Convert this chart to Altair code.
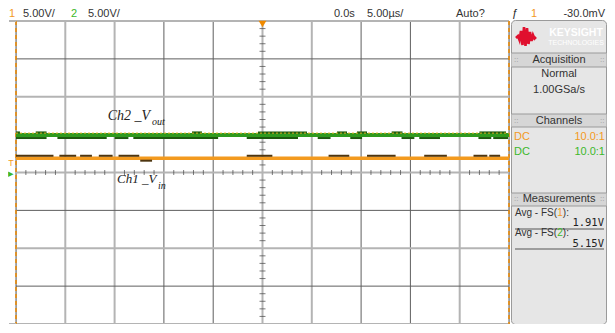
import altair as alt
import pandas as pd

# ---- graticule: time in microseconds (5 us/div), voltage in volts (5 V/div)
t_grid = [-25, -20, -15, -10, -5, 0, 5, 10, 15, 20, 25]
v_grid = [-20, -15, -10, -5, 0, 5, 10, 15, 20]
t_minor = [t for t in range(-24, 25) if t % 5 != 0]
v_minor = [v for v in range(-19, 20) if v % 5 != 0]

# ---- trace levels (V)
ch2_level = 4.94
ch2_hi = 5.29
ch2_lo = 4.55
ch2_thresh = 5.2
ch1_level = 1.88
ch1_hi = 2.21
ch1_lo = 1.56

# ---- noise segments (start/end in us)
ch2_top_start = [-25.0, -23.0, -7.15, -0.46, 7.56, 9.58, 13.1, 22.0]
ch2_top_end = [-24.6, -21.9, -6.14, 4.51, 8.57, 10.6, 14.2, 24.7]
ch2_bot_start = [-25.0, -20.8, -15.0, -13.1, -1.6, 5.6, 8.9, 14.1, 15.9, 21.9, 23.4]
ch2_bot_end = [-21.9, -15.8, -13.6, -4.5, 3.6, 6.9, 10.1, 15.4, 18.0, 23.2, 24.9]
ch1_top_start = [-25.0, -20.6, -18.5, -16.6, -14.6, -1.6, 6.7, 10.6, 16.4, 21.4, 23.0]
ch1_top_end = [-21.2, -18.9, -17.3, -15.2, -12.5, 1.0, 8.8, 13.5, 18.7, 22.8, 24.1]
ch1_bot_start = [-12.4]
ch1_bot_end = [-11.2]

ORANGE = "#f39a1e"
GREEN = "#2f9a1e"
LGREEN = "#3cb82a"
DKGREEN = "#1d5a0e"
DKORANGE = "#4d3510"
TXT = "#333333"
SANS = "Liberation Sans"

W, H = 493, 303
XS = alt.Scale(domain=[-25, 25], nice=False, zero=False)
YS = alt.Scale(domain=[-20, 20], nice=False, zero=False)
NOAX = dict(labels=False, ticks=False, domain=False, grid=False, title=None)

light_x = "indexof([-20, -15, 0, 5, 20], datum.t) >= 0"
light_y = "indexof([20, 10, 0, -10, -20], datum.v) >= 0"

base = alt.Chart(pd.DataFrame({"t": [-25, 25], "v": [-20, 20]})).mark_point(opacity=0).encode(
    x=alt.X("t:Q", scale=XS, axis=alt.Axis(**NOAX)),
    y=alt.Y("v:Q", scale=YS, axis=alt.Axis(**NOAX)))


def vgrid(test, color, width):
    return alt.Chart(pd.DataFrame({"t": t_grid})).transform_filter(test).mark_rule(
        color=color, strokeWidth=width).encode(
        x=alt.X("t:Q", axis=None), y=alt.value(0), y2=alt.value(H))


def hgrid(test, color, width):
    return alt.Chart(pd.DataFrame({"v": v_grid})).transform_filter(test).mark_rule(
        color=color, strokeWidth=width).encode(
        y=alt.Y("v:Q", axis=None), x=alt.value(0), x2=alt.value(W))


grids = [
    vgrid(light_x, "#b4b4b4", 2), vgrid("!(" + light_x + ")", "#5e5e5e", 1),
    hgrid(light_y, "#b4b4b4", 2), hgrid("!(" + light_y + ")", "#5e5e5e", 1),
]

one = pd.DataFrame({"k": [0]})

tick_x = alt.Chart(pd.DataFrame({"t": t_minor})).mark_tick(
    orient="vertical", size=5, thickness=1, color="#444444").encode(
    x=alt.X("t:Q", axis=None), y=alt.datum(0))
tick_y = alt.Chart(pd.DataFrame({"v": v_minor})).mark_tick(
    orient="horizontal", size=6, thickness=1, color="#444444").encode(
    y=alt.Y("v:Q", axis=None), x=alt.datum(0))


def seg(starts, ends, level, color, width, dash=None):
    df = pd.DataFrame({"t0": starts, "t1": ends, "v": [level] * len(starts)})
    kw = dict(color=color, strokeWidth=width)
    if dash:
        kw["strokeDash"] = dash
    return alt.Chart(df).mark_rule(**kw).encode(
        x=alt.X("t0:Q", axis=None), x2="t1:Q",
        y=alt.Y("v:Q", axis=None))


ch2_main = seg([-25], [25], ch2_level, GREEN, 4)
ch2_top = seg(ch2_top_start, ch2_top_end, ch2_hi, DKGREEN, 2)
ch2_bot = seg(ch2_bot_start, ch2_bot_end, ch2_lo, DKGREEN, 2)
ch2_dash = seg([-25], [25], ch2_thresh, "#e0b020", 1, [2, 2])
ch1_main = seg([-25], [25], ch1_level, ORANGE, 3.5)
ch1_top = seg(ch1_top_start, ch1_top_end, ch1_hi, DKORANGE, 2)
ch1_bot = seg(ch1_bot_start, ch1_bot_end, ch1_lo, DKORANGE, 2)

edges = alt.Chart(pd.DataFrame({"t": [-25, 25], "off": [1, -1]})).mark_rule(
    color="#f08a00", strokeWidth=1.5, strokeDash=[4, 3]).encode(
    x=alt.X("t:Q", axis=None), y=alt.value(0), y2=alt.value(H),
    xOffset=alt.XOffset("off:Q", scale=None))


def dtext(s, t, v, size, color="#222222", font="Liberation Serif", style="italic", align="left"):
    return alt.Chart(one).mark_text(text=s, font=font, fontSize=size, fontStyle=style,
                                    color=color, align=align, baseline="alphabetic").encode(
        x=alt.datum(t), y=alt.datum(v))


lab2a = dtext("Ch2 _V", -15.7, 6.88, 14)
lab2b = dtext("out", -11.2, 6.23, 10)
lab1a = dtext("Ch1 _V", -14.76, -1.43, 13)
lab1b = dtext("in", -10.6, -2.2, 10)

trig = alt.Chart(one).mark_point(shape="triangle-down", filled=True, color="#f08a00",
                                 size=60, opacity=1).encode(x=alt.datum(0), y=alt.value(3))

DY = -1


def ptext(s, x, y, color=TXT, size=11, align="left", font=SANS, weight="normal"):
    return alt.Chart(one).mark_text(text=s, font=font, fontSize=size, color=color,
                                    align=align, baseline="middle", fontWeight=weight).encode(
        x=alt.value(x), y=alt.value(y + DY))


def prect(x0, x1, y0, y1, fill, stroke=None, radius=0):
    kw = dict(fill=fill, cornerRadius=radius)
    if stroke:
        kw.update(stroke=stroke, strokeWidth=1)
    return alt.Chart(one).mark_rect(**kw).encode(
        x=alt.value(x0), x2=alt.value(x1), y=alt.value(y0 + DY), y2=alt.value(y1 + DY))


def prule(x0, x1, y0, y1, color, width=1):
    return alt.Chart(one).mark_rule(color=color, strokeWidth=width).encode(
        x=alt.value(x0), x2=alt.value(x1), y=alt.value(y0), y2=alt.value(y1))


# ground / trigger markers on the left
gmark = [
    ptext("T", -5, 143, ORANGE, 9, "center"),
    ptext("▸", -5, 154, LGREEN, 11, "center"),
    prule(-7, 0, 0, 0, "#b4b4b4", 2),
    prule(-7, 0, H, H, "#b4b4b4", 2),
]

HY = -6
header = [
    ptext("1", -7, HY, ORANGE, 11, "left"),
    ptext("5.00V/", 7, HY),
    ptext("2", 55, HY, LGREEN, 11, "left"),
    ptext("5.00V/", 72, HY),
    ptext("0.0s", 318, HY),
    ptext("5.00µs/", 351, HY),
    ptext("Auto?", 440, HY),
    ptext("ƒ", 499, HY, "#222222", 11, "center"),
    ptext("1", 518, HY, ORANGE, 11, "center"),
    ptext("-30.0mV", 589, HY, TXT, 11, "right"),
]

PX0, PX1 = 495.5, 590.5
PC = 543
FSW, ONEW = 42.2, 5.6
panel = [
    prect(PX0, PX1, 0.5, 304.5, "#e6e6e6", "#9a9a9a", 4),
    alt.Chart(one).mark_point(
        shape="M-1,0.1 L-0.8,-0.1 L-0.65,0.3 L-0.5,-0.6 L-0.35,0.8 L-0.2,-1 L-0.05,0.9 L0.1,-0.9 L0.25,0.7 L0.4,-0.5 L0.55,0.4 L0.7,-0.2 L0.85,0.15 L1,0",
        filled=False, stroke="#e0102e", strokeWidth=2.6, size=400, opacity=1).encode(
        x=alt.value(510), y=alt.value(17 + DY)),
    ptext("KEYSIGHT", 560, 13, "#ffffff", 10.5, "center", weight="bold"),
    ptext("TECHNOLOGIES", 560, 23, "#ffffff", 7, "center"),
    prect(PX0, PX1, 33, 47, "#d6d6d6"),
    prule(PX0, PX1, 33 + DY, 33 + DY, "#9a9a9a"),
    prule(PX0, PX1, 47 + DY, 47 + DY, "#9a9a9a"),
    ptext("Acquisition", PC, 40, align="center"),
    ptext("Normal", PC, 54, align="center"),
    ptext("1.00GSa/s", PC, 70, align="center"),
    prect(PX0, PX1, 94, 107, "#d6d6d6"),
    prule(PX0, PX1, 94 + DY, 94 + DY, "#9a9a9a"),
    prule(PX0, PX1, 107 + DY, 107 + DY, "#9a9a9a"),
    ptext("Channels", PC, 101, align="center"),
    ptext("DC", 498, 117, ORANGE),
    ptext("10.0:1", 589, 117, ORANGE, 11, "right"),
    ptext("DC", 498, 132, LGREEN),
    ptext("10.0:1", 589, 132, LGREEN, 11, "right"),
    prect(PX0, PX1, 173, 186, "#d6d6d6"),
    prule(PX0, PX1, 173 + DY, 173 + DY, "#9a9a9a"),
    prule(PX0, PX1, 186 + DY, 186 + DY, "#9a9a9a"),
    ptext("Measurements", PC, 179, align="center"),
    ptext("Avg - FS(", 499, 193, size=10),
    ptext("1", 499 + FSW, 193, ORANGE, 10),
    ptext("):", 499 + FSW + ONEW, 193, size=10),
    ptext("1.91V", 588, 203, "#222222", 10.5, "right", "DejaVu Sans Mono"),
    prule(499, 588, 209 + DY, 209 + DY, "#555555"),
    ptext("Avg - FS(", 499, 213, size=10),
    ptext("2", 499 + FSW, 213, LGREEN, 10),
    ptext("):", 499 + FSW + ONEW, 213, size=10),
    ptext("5.15V", 588, 224, "#222222", 10.5, "right", "DejaVu Sans Mono"),
    prule(499, 588, 229 + DY, 229 + DY, "#555555"),
]
for y in (40, 101, 179):
    panel.append(ptext("::", 498, y, "#999999", 8))
    panel.append(ptext("::", 584, y, "#999999", 8))

chart = alt.layer(
    base, *grids, tick_x, tick_y, edges,
    ch2_main, ch2_top, ch2_bot, ch2_dash,
    ch1_main, ch1_top, ch1_bot,
    lab2a, lab2b, lab1a, lab1b, trig,
    *gmark, *header, *panel,
).properties(
    width=W, height=H,
    autosize=alt.AutoSizeParams(type="none"),
    padding={"left": 8, "top": 13, "right": 98, "bottom": 0},
).configure_view(stroke=None).configure(background="white")

chart.save("out.html", embed_options={"renderer": "svg", "actions": False})
